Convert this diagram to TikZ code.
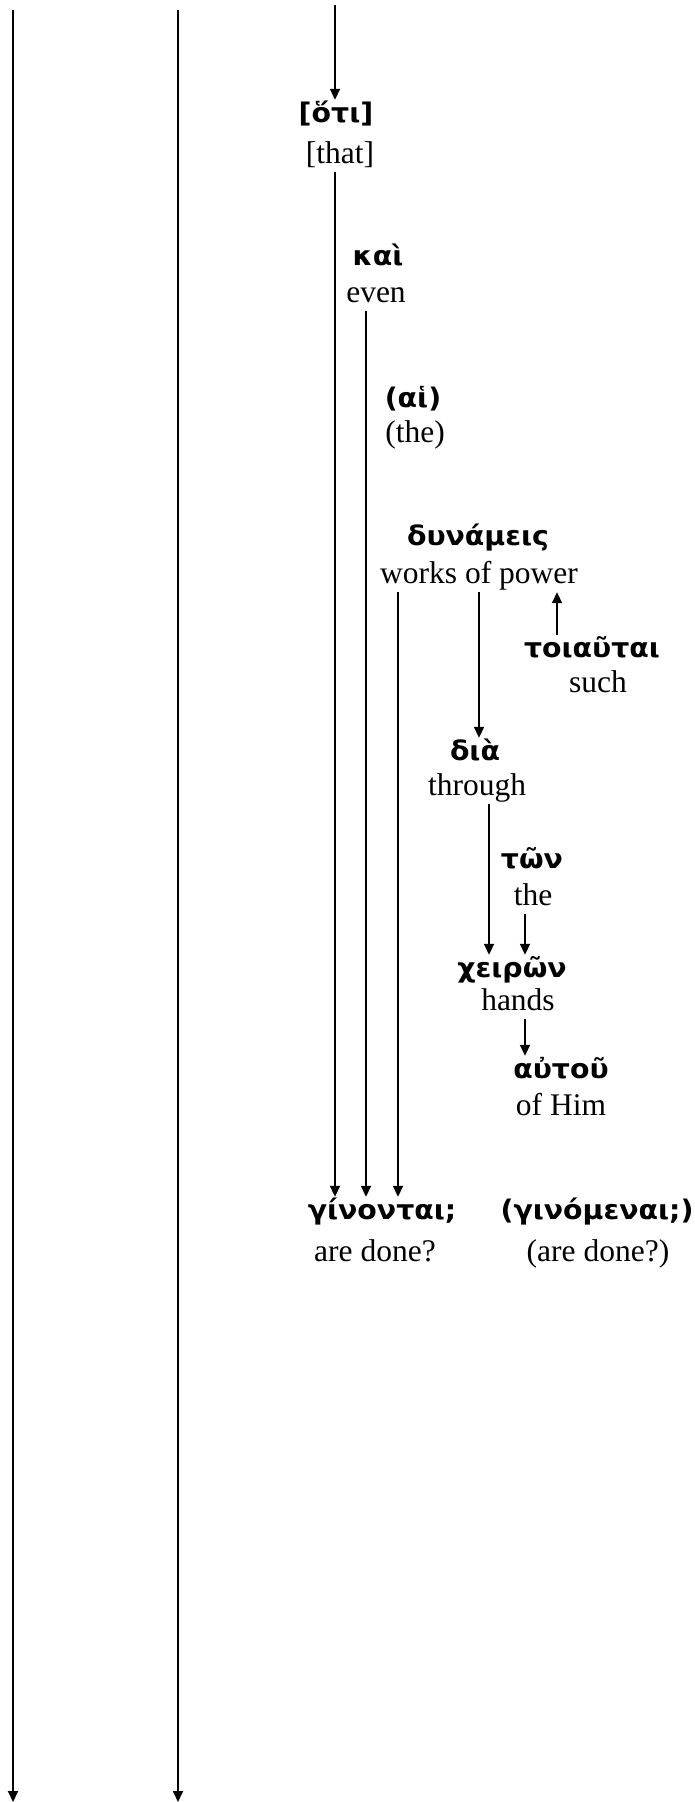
\documentclass[tikz,border=0pt]{standalone}
\usepackage{fontspec}
\setmainfont{Liberation Serif}
\newfontfamily\grk{DejaVu Sans}[FakeStretch=1.05]
\usetikzlibrary{arrows.meta}
\begin{document}
\begin{tikzpicture}[x=1pt,y=-1pt,
  gk/.style={font=\grk\bfseries\fontsize{27}{31}\selectfont, inner sep=0pt, anchor=base, text height=22pt, text depth=7pt},
  en/.style={font=\fontsize{31.5}{36}\selectfont, inner sep=0pt, anchor=base, text height=22pt, text depth=9pt},
  link/.style={line width=1.8pt, -{Triangle[length=11pt,width=10pt]}}]
\useasboundingbox (0,0) rectangle (694,1802);

% words: Greek above, English gloss below
\node[gk] (hoti)    at (336,122)  {[ὅτι]};
\node[en] (that)    at (340,163)  {[that]};
\node[gk] (kai)     at (378,265)  {καὶ};
\node[en] (even)    at (376,302)  {even};
\node[gk] (hai)     at (413,407)  {(αἱ)};
\node[en] (the1)    at (415,442)  {(the)};
\node[gk] (dyn)     at (478,545)  {δυνάμεις};
\node[en] (works)   at (479,583)  {works of power};
\node[gk] (toi)     at (592,657)  {τοιαῦται};
\node[en] (such)    at (598,692)  {such};
\node[gk] (dia)     at (475,760)  {διὰ};
\node[en] (through) at (477,795)  {through};
\node[gk] (ton)     at (532,868)  {τῶν};
\node[en] (the2)    at (533,905)  {the};
\node[gk] (cheir)   at (512,977)  {χειρῶν};
\node[en] (hands)   at (518,1010) {hands};
\node[gk] (autou)   at (561,1078) {αὐτοῦ};
\node[en] (ofhim)   at (561,1115) {of Him};
\node[gk] (gin)     at (382,1219) {γίνονται;};
\node[en] (done)    at (375,1261) {are done?};
\node[gk] (ginm)    at (597,1219) {(γινόμεναι;)};
\node[en] (done2)   at (598,1261) {(are done?)};

% line columns
\coordinate (top)  at (335,5);
\coordinate (ckai) at (366,0);
\coordinate (cdyn) at (398,0);
\coordinate (ctoi) at (557,0);
\coordinate (cthr) at (489,0);
\coordinate (cthe) at (525,0);
\coordinate (l1s) at (13,10);
\coordinate (l1e) at (13,1802);
\coordinate (l2s) at (178,10);
\coordinate (l2e) at (178,1802);

% connectors
\draw[link] (l1s) -- (l1e);
\draw[link] (l2s) -- (l2e);
\draw[link] (top) -- (top |- hoti.north);
\draw[link] (top |- that.south) -- (top |- gin.north);
\draw[link] (ckai |- even.south) -- (ckai |- gin.north);
\draw[link] (cdyn |- works.south) -- (cdyn |- gin.north);
\draw[link] (works.south) -- (works.south |- dia.north);
\draw[link] (ctoi |- toi.north) -- (ctoi |- works.south);
\draw[link] (cthr |- through.south) -- (cthr |- cheir.north);
\draw[link] (cthe |- the2.south) -- (cthe |- cheir.north);
\draw[link] (cthe |- hands.south) -- (cthe |- autou.north);
\end{tikzpicture}
\end{document}
